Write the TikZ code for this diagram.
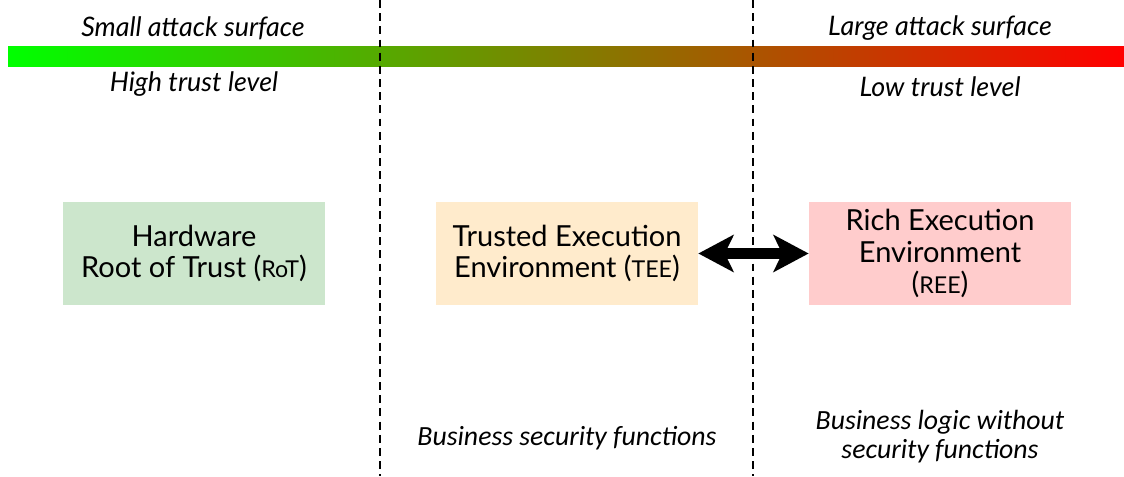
\documentclass[tikz,border=0pt]{standalone}
\usepackage{fontspec}
\setmainfont{Lato}
\newfontfamily\notefont{Carlito}
\usetikzlibrary{arrows.meta}
\definecolor{rotfill}{RGB}{204,230,204}
\definecolor{teefill}{RGB}{255,235,204}
\definecolor{reefill}{RGB}{255,204,204}
\newcommand{\abbr}[1]{{\fontsize{13.2}{15}\selectfont #1}}
\begin{document}
\begin{tikzpicture}[x=0.02cm,y=-0.02cm,
  envbox/.style={minimum width=262*0.02cm,minimum height=103*0.02cm,inner sep=0pt,align=center,
    font=\fontsize{16.5}{18}\selectfont},
  scalelabel/.style={font=\fontsize{15.3}{18}\selectfont\itshape},
  notelabel/.style={font=\notefont\fontsize{15.8}{16.5}\selectfont\itshape,align=center},
  boundary/.style={line width=1pt,dash pattern=on 4.5pt off 3pt},
  link/.style={line width=6pt,
    {Stealth[length=20pt,width=21pt,inset=5pt]}-{Stealth[length=20pt,width=21pt,inset=5pt]}}]
\useasboundingbox (0,0) rectangle (1124,476);
% trust / attack-surface scale
\shade[left color=green,right color=red] (8,47) rectangle (1124,67);
\node[scalelabel] (small) at (193,28) {Small attack surface};
\node[scalelabel] (large) at (940,28) {Large attack surface};
\node[scalelabel] (high) at (194,84) {High trust level};
\node[scalelabel] (low) at (940,87) {Low trust level};
% zone boundaries
\coordinate (b1top) at (380,0);
\coordinate (b1bot) at (380,476);
\coordinate (b2top) at (753,0);
\coordinate (b2bot) at (753,476);
\draw[boundary] (b1top) -- (b1bot);
\draw[boundary] (b2top) -- (b2bot);
% execution environments
\node[envbox,fill=rotfill] (rot) at (194,253.5) {Hardware\\Root of Trust (\abbr{RoT})};
\node[envbox,fill=teefill] (tee) at (567,253.5) {Trusted Execution\\Environment (\abbr{TEE})};
\node[envbox,fill=reefill] (ree) at (940,253.5) {Rich Execution\\Environment\\(\abbr{REE})};
\draw[link] (tee.east) -- (ree.west);
% roles
\node[notelabel] (teerole) at (567,438) {Business security functions};
\node[notelabel] (reerole) at (940,437) {Business logic without\\security functions};
\end{tikzpicture}
\end{document}
